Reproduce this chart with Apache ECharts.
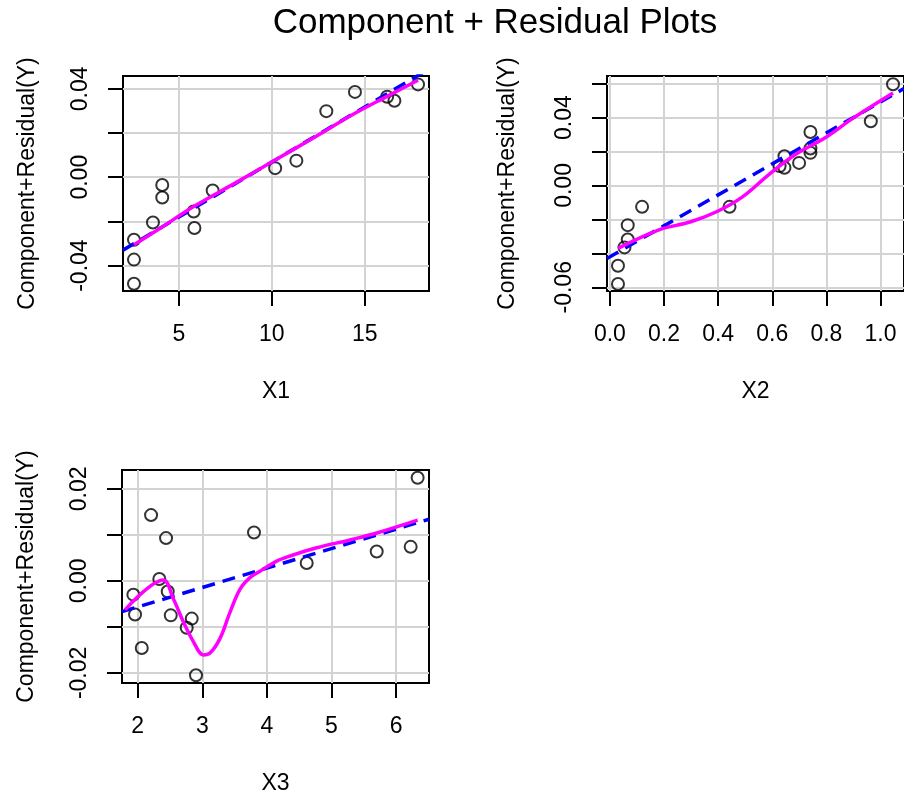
<!DOCTYPE html>
<html>
<head>
<meta charset="utf-8">
<title>Component + Residual Plots</title>
<script src="https://cdn.jsdelivr.net/npm/echarts@6/dist/echarts.min.js"></script>
<style>
  html, body { margin: 0; padding: 0; background: #fff; }
  #chart { width: 904px; height: 796px; }
</style>
</head>
<body>
<div id="chart"></div>
<script>
// points: X1 / X2 / X3 against component + residual
const x1 = [2.59, 2.59, 2.59, 3.61, 4.11, 4.11, 5.80, 5.84, 6.82, 10.18, 11.32, 12.93, 14.47, 16.20, 16.59, 17.86];
const y1 = [-0.0283, -0.0373, -0.0482, -0.0205, -0.0035, -0.0092, -0.0155, -0.0230, -0.0060, 0.0041, 0.0075, 0.0299, 0.0386, 0.0364, 0.0346, 0.0420];

const x2 = [0.030, 0.030, 0.054, 0.066, 0.066, 0.119, 0.442, 0.627, 0.645, 0.645, 0.699, 0.741, 0.741, 0.741, 0.964, 1.046];
const y2 = [-0.0581, -0.0473, -0.0365, -0.0318, -0.0234, -0.0126, -0.0126, 0.0114, 0.0104, 0.0172, 0.0133, 0.0192, 0.0218, 0.0315, 0.0378, 0.0596];

const x3 = [1.932, 1.958, 2.062, 2.206, 2.334, 2.438, 2.464, 2.511, 2.758, 2.836, 2.902, 3.800, 4.616, 5.700, 6.226, 6.334];
const y3 = [-0.0030, -0.0073, -0.0146, 0.0143, 0.0004, 0.0093, -0.0023, -0.0075, -0.0102, -0.0082, -0.0205, 0.0105, 0.0039, 0.0064, 0.0074, 0.0224];

// linear fit (blue dashed), end points at the panel edges
const fitX1 = [2.0, 18.45];
const fitY1 = [-0.0330, 0.0490];
const fitX2 = [-0.0106, 1.0866];
const fitY2 = [-0.0430, 0.0571];
const fitX3 = [1.756, 6.51];
const fitY3 = [-0.0067, 0.0134];

// smoother (magenta)
const smX1 = [2.59, 4.0, 5.8, 8.0, 10.18, 12.3, 14.47, 16.2, 17.86];
const smY1 = [-0.0306, -0.0231, -0.0133, -0.0028, 0.0078, 0.0181, 0.0289, 0.0366, 0.0439];
const smX2 = [0.030, 0.179, 0.299, 0.394, 0.490, 0.585, 0.681, 0.800, 0.896, 1.046];
const smY2 = [-0.0371, -0.0263, -0.0214, -0.0155, -0.0067, 0.0061, 0.0178, 0.0286, 0.0394, 0.0545];
const smX3 = [1.803, 2.397, 2.551, 2.706, 2.861, 3.015, 3.119, 3.274, 3.429, 3.584, 3.738, 3.893, 4.152, 4.358, 4.771, 5.286, 5.700, 6.334];
const smY3 = [-0.0063, 0.0002, -0.0039, -0.0089, -0.0132, -0.0161, -0.0157, -0.0125, -0.0068, -0.0018, 0.0007, 0.0021, 0.0043, 0.0054, 0.0072, 0.0089, 0.0104, 0.0132];

// ticks and labels
const xTicks1 = [5, 10, 15];
const xTicks2 = [0, 0.2, 0.4, 0.6, 0.8, 1.0];
const xTicks3 = [2, 3, 4, 5, 6];
const yTicks1 = [-0.04, -0.02, 0, 0.02, 0.04];
const yLabels1 = [-0.04, 0, 0.04];
const yTicks2 = [-0.06, -0.04, -0.02, 0, 0.02, 0.04, 0.06];
const yLabels2 = [-0.06, 0, 0.04];
const yTicks3 = [-0.02, -0.01, 0, 0.01, 0.02];
const yLabels3 = [-0.02, 0, 0.02];

const FONT = '"Liberation Sans", Arial, Helvetica, sans-serif';
const FS = 23;
const pairs = (xs, ys) => xs.map((x, i) => [x, ys[i]]);

const xAxis = (idx, min, max, ticks, name, digits) => ({
  type: 'value', gridIndex: idx, min, max,
  name, nameLocation: 'middle', nameGap: 89,
  nameTextStyle: { fontSize: FS, color: '#000', fontFamily: FONT },
  axisLine: { show: false, onZero: false },
  axisTick: { show: true, inside: false, length: 15, customValues: ticks, lineStyle: { color: '#000', width: 2 } },
  axisLabel: { customValues: ticks, margin: 32, fontSize: FS, color: '#000', fontFamily: FONT,
    formatter: v => v.toFixed(digits) },
  splitLine: { show: true, lineStyle: { color: '#d3d3d3', width: 2 } }
});

const yAxis = (idx, min, max, ticks, labels, gap) => ({
  type: 'value', gridIndex: idx, min, max,
  name: 'Component+Residual(Y)', nameLocation: 'middle', nameGap: gap,
  nameTextStyle: { fontSize: FS, color: '#000', fontFamily: FONT },
  axisLine: { show: false, onZero: false },
  axisTick: { show: true, inside: false, length: 15, customValues: ticks, lineStyle: { color: '#000', width: 2 } },
  axisLabel: { customValues: labels, rotate: 90, margin: 31, fontSize: FS, color: '#000', fontFamily: FONT,
    formatter: v => v.toFixed(2) },
  splitLine: { show: true, lineStyle: { color: '#d3d3d3', width: 2 } }
});

const pointSeries = (idx, xs, ys) => ({
  type: 'scatter', xAxisIndex: idx, yAxisIndex: idx,
  data: pairs(xs, ys), symbol: 'circle', symbolSize: 12,
  itemStyle: { color: 'rgba(0,0,0,0)', borderColor: '#000', borderWidth: 2 },
  z: 3
});

const fitSeries = (idx, xs, ys) => ({
  type: 'line', xAxisIndex: idx, yAxisIndex: idx,
  data: pairs(xs, ys), showSymbol: false, clip: true,
  lineStyle: { color: '#0000ff', width: 3.5, type: [13, 8] },
  z: 4
});

const smoothSeries = (idx, xs, ys) => ({
  type: 'line', xAxisIndex: idx, yAxisIndex: idx,
  data: pairs(xs, ys), showSymbol: false, smooth: 0.35, clip: true,
  lineStyle: { color: '#ff00ff', width: 3.5 },
  z: 5
});

const chart = echarts.init(document.getElementById('chart'), null, { renderer: 'canvas' });

chart.setOption({
  animation: false,
  backgroundColor: '#fff',
  title: {
    text: 'Component + Residual Plots',
    left: 490, top: 1, textAlign: 'center',
    textStyle: { fontSize: 35, fontWeight: 'normal', color: '#000', fontFamily: FONT }
  },
  grid: [
    { left: 123, top: 76, width: 306, height: 215, show: true, borderColor: '#000', borderWidth: 2, backgroundColor: 'transparent' },
    { left: 607, top: 76, width: 306, height: 215, show: true, borderColor: '#000', borderWidth: 2, backgroundColor: 'transparent' },
    { left: 122, top: 470, width: 307, height: 216, show: true, borderColor: '#000', borderWidth: 2, backgroundColor: 'transparent' }
  ],
  xAxis: [
    xAxis(0, 2.0, 18.45, xTicks1, 'X1', 0),
    xAxis(1, -0.0106, 1.0866, xTicks2, 'X2', 1),
    xAxis(2, 1.756, 6.51, xTicks3, 'X3', 0)
  ],
  yAxis: [
    yAxis(0, -0.0515, 0.0458, yTicks1, yLabels1, 84),
    yAxis(1, -0.0622, 0.0645, yTicks2, yLabels2, 88),
    yAxis(2, -0.0222, 0.0241, yTicks3, yLabels3, 84)
  ],
  series: [
    pointSeries(0, x1, y1), fitSeries(0, fitX1, fitY1), smoothSeries(0, smX1, smY1),
    pointSeries(1, x2, y2), fitSeries(1, fitX2, fitY2), smoothSeries(1, smX2, smY2),
    pointSeries(2, x3, y3), fitSeries(2, fitX3, fitY3), smoothSeries(2, smX3, smY3)
  ]
});

window.addEventListener('resize', () => chart.resize());
</script>
</body>
</html>
